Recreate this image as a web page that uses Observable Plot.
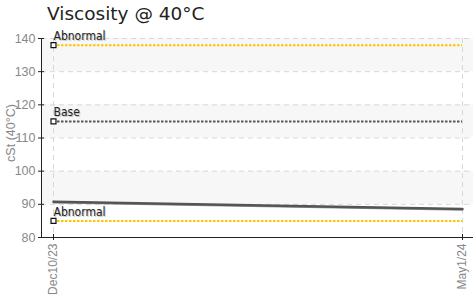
<!DOCTYPE html>
<html><head><meta charset="utf-8">
<script src="https://cdn.jsdelivr.net/npm/d3@7"></script>
<script src="https://cdn.jsdelivr.net/npm/@observablehq/plot@0.6"></script>
<style>
body{margin:0;background:#fff;}
#wrap{position:relative;width:473px;height:298px;overflow:hidden;}
#wrap svg{display:block;position:absolute;left:0;top:0;}
#title{position:absolute;left:47px;top:3px;font:18.5px "DejaVu Sans",sans-serif;color:#222;z-index:2;white-space:nowrap;}
</style></head><body>
<div id="wrap"><div id="title">Viscosity @ 40°C</div></div>
<script>
// Data
const dates = ["2023-12-10", "2024-05-01"];
const viscosity = [90.8, 88.6];
const limitLabels = ["Abnormal", "Base", "Abnormal"];
const limitValues = [138, 115, 85];
const yTicks = [80, 90, 100, 110, 120, 130, 140];
const xTickLabels = ["Dec10/23", "May1/24"];
const bandStarts = [90, 110, 130];
const yLabel = "cSt (40°C)";

const parse = d3.utcParse("%Y-%m-%d");
const dateObjs = dates.map(parse);
const series = dateObjs.map((d, i) => ({date: d, value: viscosity[i]}));
const limits = limitLabels.map((l, i) => ({label: l, value: limitValues[i]}));
const start = dateObjs[0], end = dateObjs[dateObjs.length - 1];
const labelMap = new Map(dateObjs.map((d, i) => [+d, xTickLabels[i]]));

const tickFont = "'Liberation Sans Narrow','Liberation Sans',sans-serif";
const labelFont = "'DejaVu Sans Condensed','DejaVu Sans',sans-serif";
const abnormal = limits.filter(d => d.label === "Abnormal");
const base = limits.filter(d => d.label === "Base");

const chart = Plot.plot({
  width: 473, height: 298,
  marginLeft: 41, marginRight: 0, marginTop: 38, marginBottom: 61,
  style: {fontFamily: tickFont, fontSize: "12px", background: "transparent"},
  x: {type: "utc", domain: [start, end], insetLeft: 12, insetRight: 11},
  y: {domain: [80, 140]},
  marks: [
    Plot.rectY(bandStarts, {y1: d => d, y2: d => d + 10, fill: "#f7f7f7"}),
    Plot.gridY(yTicks.filter(v => v > 80), {stroke: "#d8d8d8", strokeOpacity: 1, strokeDasharray: "5,4"}),
    Plot.gridX(dateObjs, {stroke: "#d8d8d8", strokeOpacity: 1, strokeDasharray: "5,4"}),
    Plot.frame({anchor: "left", stroke: "#222"}),
    Plot.ruleY([80], {stroke: "#222"}),
    Plot.ruleY(abnormal, {y: "value", x1: () => start, x2: () => end, stroke: "#ffc400", strokeWidth: 2, strokeDasharray: "2.5,1.5"}),
    Plot.ruleY(base, {y: "value", x1: () => start, x2: () => end, stroke: "#555", strokeWidth: 2, strokeDasharray: "2.5,1.5"}),
    Plot.line(series, {x: "date", y: "value", stroke: "#999", strokeWidth: 1.5, dy: 1}),
    Plot.line(series, {x: "date", y: "value", stroke: "#555", strokeWidth: 2.5}),
    Plot.dot(limits, {x: () => start, y: "value", symbol: "square", r: 2.8, stroke: "#111", fill: "white", strokeWidth: 1.2}),
    Plot.text(limits, {x: () => start, y: "value", text: "label", textAnchor: "start", lineAnchor: "bottom", dx: 1, dy: -4, fontSize: 12, fill: "#c8c8c8", fontFamily: labelFont}),
    Plot.text(limits, {x: () => start, y: "value", text: "label", textAnchor: "start", lineAnchor: "bottom", dy: -5, fontSize: 12, fill: "#222", fontFamily: labelFont}),
    Plot.axisY(yTicks, {text: null, tickSize: 6, dx: 3, stroke: "#222", label: null}),
    Plot.axisY(yTicks, {tickSize: 0, tickPadding: 6, fill: "#888", fontSize: 12.5, label: null}),
    Plot.axisX(dateObjs, {text: null, tickSize: 6, dy: -3, stroke: "#222", label: null}),
    Plot.axisX(dateObjs, {tickSize: 0, tickPadding: 6, tickRotate: -90, tickFormat: d => labelMap.get(+d), fill: "#888", fontSize: 12, label: null}),
    Plot.text([yLabel], {frameAnchor: "left", dx: -31, dy: -5, rotate: -90, textAnchor: "middle", fill: "#888", fontSize: 12.5})
  ]
});
document.getElementById("wrap").appendChild(chart);
</script>
</body></html>
